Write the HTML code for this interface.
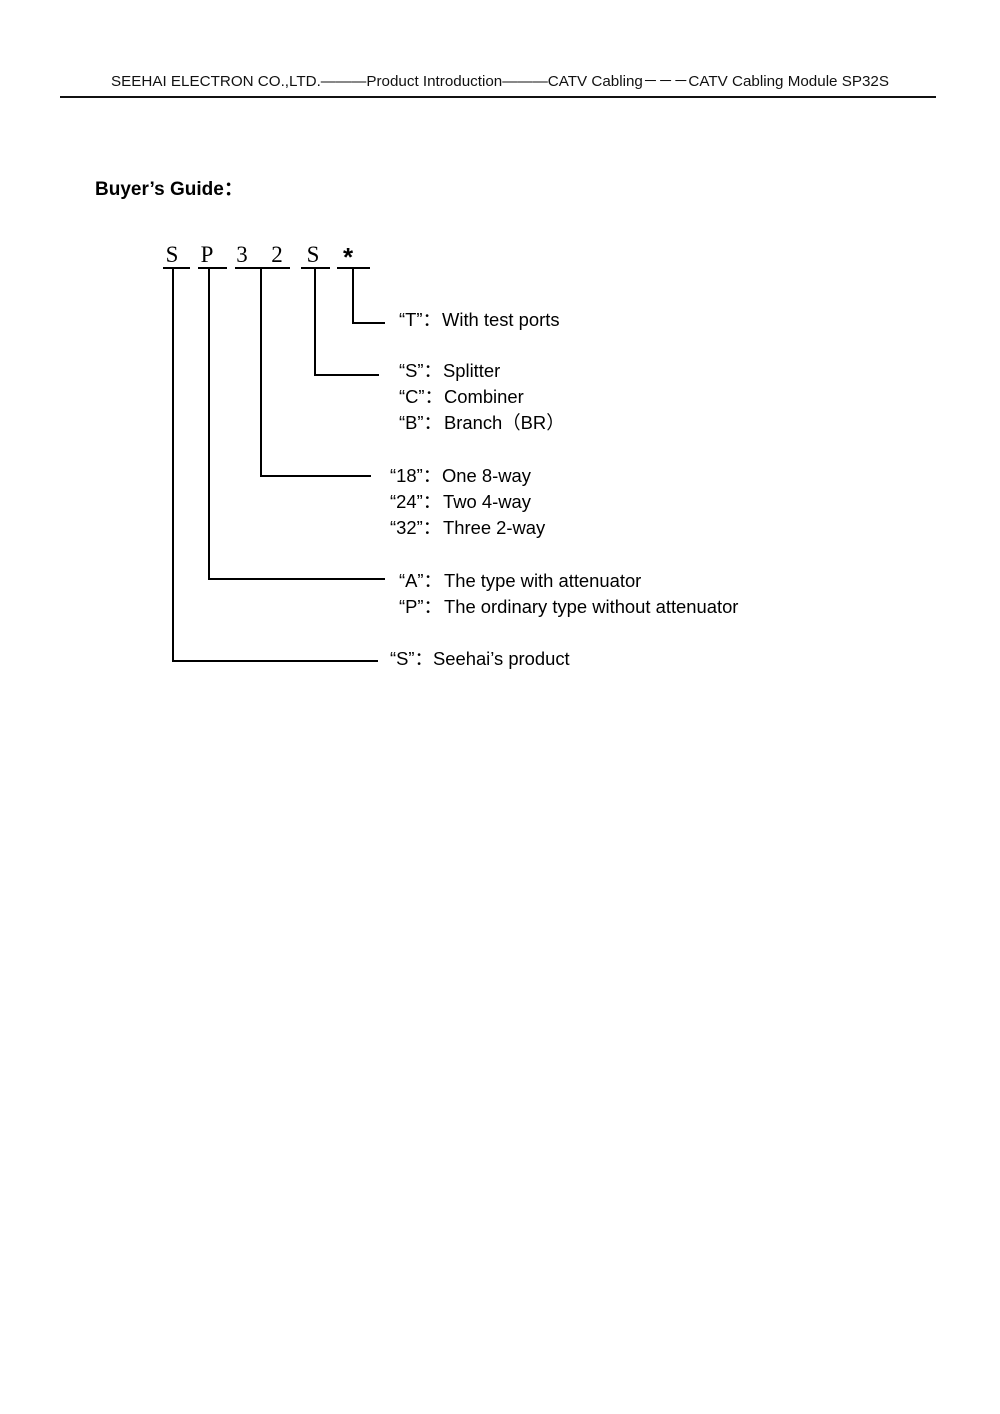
<!DOCTYPE html>
<html><head><meta charset="utf-8"><style>
body{margin:0;background:#fff;}
svg{display:block}
</style></head><body>
<svg width="1000" height="1414" xmlns="http://www.w3.org/2000/svg">
<rect width="1000" height="1414" fill="#fff"/>
<text x="111" y="86" textLength="778" lengthAdjust="spacingAndGlyphs" font-family="Liberation Sans, sans-serif" font-size="15" fill="#111">SEEHAI ELECTRON CO.,LTD.———Product Introduction———CATV Cabling－－－CATV Cabling Module SP32S</text>
<line x1="60" y1="97" x2="936" y2="97" stroke="#111" stroke-width="2"/>
<text x="95" y="195" font-family="Liberation Sans, sans-serif" font-size="19" font-weight="bold" fill="#000">Buyer’s Guide<tspan font-family="Noto Sans CJK SC, sans-serif">：</tspan></text>
<g font-family="Liberation Serif, serif" font-size="23" fill="#000" text-anchor="middle">
<text x="172" y="262">S</text><text x="207" y="262">P</text><text x="242" y="262">3</text><text x="277" y="262">2</text><text x="313" y="262">S</text><text x="348" y="266" font-family="Liberation Sans, sans-serif" font-size="26" font-weight="bold">*</text>
</g>
<g stroke="#000" stroke-width="2" fill="none">
<line x1="163" y1="268" x2="190" y2="268"/>
<line x1="198" y1="268" x2="227" y2="268"/>
<line x1="235" y1="268" x2="290" y2="268"/>
<line x1="301" y1="268" x2="330" y2="268"/>
<line x1="337" y1="268" x2="370" y2="268"/>
<polyline points="173,268 173,661 378,661"/>
<polyline points="209,268 209,579 385,579"/>
<polyline points="261,268 261,476 371,476"/>
<polyline points="315,268 315,375 379,375"/>
<polyline points="353,268 353,323 385,323"/>
</g>
<g font-family="Liberation Sans, 'Noto Sans CJK SC', sans-serif" font-size="18.4" fill="#000">
<text x="399" y="326">“T”：</text><text x="442" y="326">With test ports</text>
<text x="399" y="377">“S”：</text><text x="443" y="377">Splitter</text>
<text x="399" y="403">“C”：</text><text x="444" y="403">Combiner</text>
<text x="399" y="429">“B”：</text><text x="444" y="429">Branch（BR）</text>
<text x="390" y="482">“18”：</text><text x="442" y="482">One 8-way</text>
<text x="390" y="508">“24”：</text><text x="443" y="508">Two 4-way</text>
<text x="390" y="534">“32”：</text><text x="443" y="534">Three 2-way</text>
<text x="399" y="587">“A”：</text><text x="444" y="587">The type with attenuator</text>
<text x="399" y="613">“P”：</text><text x="444" y="613">The ordinary type without attenuator</text>
<text x="390" y="665">“S”：</text><text x="433" y="665">Seehai’s product</text>
</g>
</svg>
</body></html>
